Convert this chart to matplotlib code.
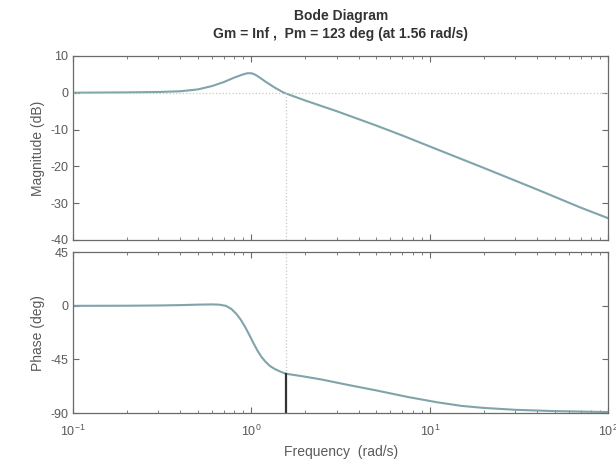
import numpy as np
import matplotlib
matplotlib.use("Agg")
import matplotlib.pyplot as plt
from matplotlib.ticker import LogLocator, NullFormatter

plt.rcParams['font.family'] = ['Liberation Sans', 'DejaVu Sans']
plt.rcParams['mathtext.fontset'] = 'custom'
plt.rcParams['mathtext.rm'] = 'Liberation Sans'
plt.rcParams['axes.unicode_minus'] = False

# ===================== data =====================
mag_w = [0.1, 0.2, 0.3, 0.4, 0.5, 0.6, 0.7, 0.8, 0.9, 0.95, 1.0, 1.05, 1.1, 1.2,
         1.35, 1.52, 2.0, 2.5, 3.0, 4.0, 5.0, 7.0, 10.0, 20.0, 40.0, 70.0, 100.0]
mag_db = [0.0, 0.1, 0.2, 0.4, 0.9, 1.8, 2.9, 4.1, 5.0, 5.3, 5.3, 4.9, 4.3, 3.0,
          1.4, 0.0, -2.1, -3.7, -5.0, -7.2, -8.9, -11.6, -14.6, -20.4, -26.3, -31.2, -34.1]

ph_w = [0.1, 0.2, 0.3, 0.4, 0.5, 0.6, 0.66, 0.72, 0.77, 0.82, 0.87, 0.92, 0.97,
        1.02, 1.08, 1.14, 1.2, 1.27, 1.35, 1.45, 1.56, 2.0, 2.5, 3.5, 5.0, 7.5,
        11.0, 15.0, 20.0, 30.0, 50.0, 100.0]
ph_deg = [0.0, 0.1, 0.3, 0.6, 1.0, 1.2, 1.0, 0.0, -2.5, -6.5, -11.5, -17.5, -24.0,
          -30.5, -37.5, -43.0, -47.0, -50.5, -53.0, -55.2, -57.0, -59.5, -62.0,
          -66.5, -71.0, -76.5, -81.0, -84.0, -85.7, -87.3, -88.4, -89.2]

wc = 1.56          # gain crossover (rad/s)
ph_at_wc = -57.0   # phase at crossover (deg)

mag_ticks = [10, 0, -10, -20, -30, -40]
ph_ticks = [45, 0, -45, -90]

LINE_C = '#7fa4aa'
TXT_C = '#5a5a5a'
GRID_C = '#c8c8c8'

# ===================== plot =====================
fig = plt.figure(figsize=(6.16, 4.66), dpi=100)
ax1 = fig.add_axes([0.1185, 0.485, 0.869, 0.395])
ax2 = fig.add_axes([0.1185, 0.1137, 0.869, 0.345], sharex=ax1)

ax1.semilogx(mag_w, mag_db, color=LINE_C, lw=1.5)
ax1.axhline(0, color=GRID_C, lw=0.9, ls=':')
ax1.plot([wc, wc], [-40, 0], color=GRID_C, lw=0.9, ls=':')
ax1.set_ylim(-40, 10)
ax1.set_yticks(mag_ticks)
ax1.set_ylabel('Magnitude (dB)', color=TXT_C, fontsize=10)

ax2.semilogx(ph_w, ph_deg, color=LINE_C, lw=1.5)
ax2.plot([wc, wc], [ph_at_wc, 45], color=GRID_C, lw=0.9, ls=':')
ax2.plot([wc, wc], [-90, ph_at_wc], color='#333333', lw=1.6)
ax2.set_ylim(-90, 45)
ax2.set_yticks(ph_ticks)
ax2.set_ylabel('Phase (deg)', color=TXT_C, fontsize=10)
ax2.set_xlabel('Frequency  (rad/s)', color=TXT_C, fontsize=10, labelpad=4)

for ax in (ax1, ax2):
    ax.set_xlim(0.1, 100)
    ax.xaxis.set_major_locator(LogLocator(base=10, numticks=10))
    ax.xaxis.set_minor_locator(LogLocator(base=10, subs=np.arange(2, 10), numticks=10))
    ax.xaxis.set_minor_formatter(NullFormatter())
    ax.tick_params(which='both', direction='in', top=True, right=True,
                   colors='#6a6a6a', labelcolor=TXT_C, labelsize=9)
    ax.tick_params(which='major', length=4)
    ax.tick_params(which='minor', length=2)
    for s in ax.spines.values():
        s.set_color('#6a6a6a')
        s.set_linewidth(0.9)

ax2.tick_params(axis='x', pad=8)
plt.setp(ax1.get_xticklabels(), visible=False)

fig.text(0.553, 0.965, 'Bode Diagram', ha='center', va='center',
         fontsize=10, fontweight='bold', color='#333333')
fig.text(0.553, 0.928, 'Gm = Inf ,  Pm = 123 deg (at 1.56 rad/s)', ha='center',
         va='center', fontsize=10, fontweight='bold', color='#333333')

fig.savefig('out.png', dpi=100)
